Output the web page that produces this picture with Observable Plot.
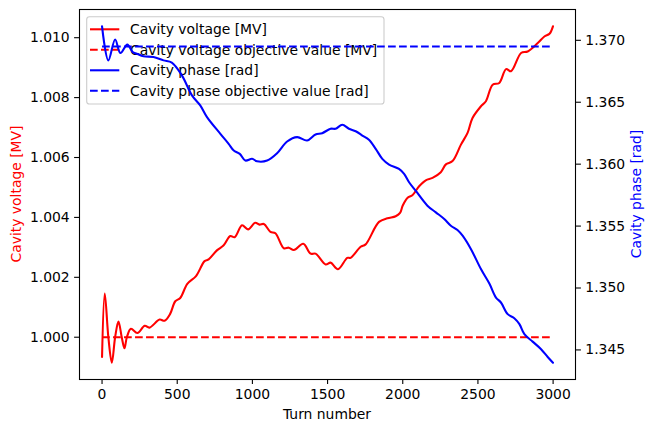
<!DOCTYPE html>
<html>
<head>
<meta charset="utf-8">
<script src="https://cdn.jsdelivr.net/npm/d3@7"></script>
<script src="https://cdn.jsdelivr.net/npm/@observablehq/plot@0.6"></script>
<style>
  body { margin: 0; background: #fff; }
</style>
</head>
<body>
<div id="chart"></div>
<script>
// Cavity voltage over turns [MV]
const voltTurns = [0, 18, 42, 65, 87, 109, 131, 149, 165, 192, 235, 284, 315, 383, 416, 453, 487, 520, 567, 625,
  682, 709, 764, 809, 853, 882, 931, 971, 1018, 1047, 1076, 1120, 1153, 1209, 1242, 1276, 1338, 1387, 1420, 1487,
  1520, 1569, 1631, 1653, 1720, 1753, 1842, 1898, 1953, 1982, 2000, 2031, 2064, 2109, 2153, 2198, 2253, 2287, 2331, 2387,
  2431, 2464, 2520, 2553, 2598, 2642, 2687, 2720, 2787, 2831, 2898, 2942, 2976, 2999];
const voltValues = [0.99934, 1.00146, 1.00000, 0.99915, 1.00000, 1.00052, 1.00000, 0.99963, 1.00000, 1.00028,
  1.00014, 1.00038, 1.00032, 1.00059, 1.00055, 1.00078, 1.00120, 1.00131, 1.00178, 1.00204,
  1.00254, 1.00260, 1.00290, 1.00307, 1.00338, 1.00334, 1.00374, 1.00360, 1.00382, 1.00376,
  1.00378, 1.00352, 1.00347, 1.00297, 1.00299, 1.00291, 1.00312, 1.00279, 1.00279, 1.00243,
  1.00249, 1.00227, 1.00265, 1.00265, 1.00302, 1.00310, 1.00385, 1.00397, 1.00404, 1.00415, 1.00440,
  1.00465, 1.00474, 1.00504, 1.00524, 1.00532, 1.00551, 1.00577, 1.00588, 1.00643, 1.00682,
  1.00732, 1.00771, 1.00788, 1.00843, 1.00849, 1.00895, 1.00888, 1.00949, 1.00954, 1.00982,
  1.01004, 1.01013, 1.01038];

// Cavity phase over turns [rad]
const phaseTurns = [0, 42, 87, 122, 168, 204, 231, 276, 342, 409, 464, 531, 598, 653, 698, 787, 842, 876, 916, 953,
  998, 1031, 1098, 1164, 1231, 1298, 1364, 1420, 1464, 1520, 1553, 1598, 1642, 1687, 1731, 1775, 1820, 1864, 1909,
  1975, 2009, 2042, 2087, 2164, 2220, 2276, 2320, 2364, 2398, 2453, 2520, 2576, 2620, 2653, 2698, 2742, 2776, 2809,
  2864, 2920, 2964, 2999];
const phaseValues = [1.37113, 1.36838, 1.37006, 1.36897, 1.36965, 1.36905, 1.36892, 1.36871, 1.36865, 1.36838,
  1.36820, 1.36717, 1.36555, 1.36474, 1.36380, 1.36245, 1.36164, 1.36110, 1.36083, 1.36029,
  1.36043, 1.36023, 1.36029, 1.36088, 1.36183, 1.36218, 1.36191, 1.36240, 1.36250, 1.36286,
  1.36286, 1.36318, 1.36286, 1.36266, 1.36231, 1.36197, 1.36124, 1.36043, 1.35997, 1.35962,
  1.35922, 1.35854, 1.35784, 1.35665, 1.35611, 1.35557, 1.35503, 1.35468, 1.35422, 1.35315,
  1.35153, 1.35036, 1.34923, 1.34883, 1.34789, 1.34756, 1.34708, 1.34627, 1.34567, 1.34506,
  1.34443, 1.34397];

const voltObjective = 1.000;
const phaseObjective = 1.3695;

const turnTicks = [0, 500, 1000, 1500, 2000, 2500, 3000];
const voltTicks = [1.000, 1.002, 1.004, 1.006, 1.008, 1.010];
const phaseTicks = [1.345, 1.350, 1.355, 1.360, 1.365, 1.370];

const seriesLabels = [
  "Cavity voltage [MV]",
  "Cavity voltage objective value [MV]",
  "Cavity phase [rad]",
  "Cavity phase objective value [rad]"
];
const xLabel = "Turn number";
const yLeftLabel = "Cavity voltage [MV]";
const yRightLabel = "Cavity phase [rad]";

const RED = "#ff0000", BLUE = "#0000ff";
const FONT = "DejaVu Sans";
const FS = 13.9;
const LW = 2.08;
const DASH = "7.7,3.3";

// autoscale with 5% padding on each side
function padded([lo, hi]) { const m = (hi - lo) * 0.05; return [lo - m, hi + m]; }
const turnExtent = d3.extent([...voltTurns, ...phaseTurns]);
const xDomain = padded(turnExtent);
const vDomain = padded(d3.extent([...voltValues, voltObjective]));
const pDomain = padded(d3.extent([...phaseValues, phaseObjective]));

// phase is drawn on the voltage scale through a linear twin-axis mapping
const toV = p => vDomain[0] + (p - pDomain[0]) * (vDomain[1] - vDomain[0]) / (pDomain[1] - pDomain[0]);
const toP = v => pDomain[0] + (v - vDomain[0]) * (pDomain[1] - pDomain[0]) / (vDomain[1] - vDomain[0]);

const voltage = voltTurns.map((t, i) => ({t, v: voltValues[i]}));
const phase = phaseTurns.map((t, i) => ({t, v: toV(phaseValues[i])}));
const voltGoal = turnExtent.map(t => ({t, v: voltObjective}));
const phaseGoal = turnExtent.map(t => ({t, v: toV(phaseObjective)}));

const fmt3 = d3.format(".3f");

function legend(index, scales, values, dims) {
  const g = d3.create("svg:g").attr("font-family", FONT).attr("font-size", FS).attr("text-anchor", "start");
  const x0 = dims.marginLeft + 7.7, y0 = dims.marginTop + 7.7;
  g.append("rect")
    .attr("x", x0).attr("y", y0).attr("width", 297.3).attr("height", 87.3)
    .attr("rx", 2.8).attr("ry", 2.8)
    .attr("fill", "white").attr("fill-opacity", 0.8)
    .attr("stroke", "#cccccc").attr("stroke-width", 1.1);
  const styles = [[RED, null], [RED, DASH], [BLUE, null], [BLUE, DASH]];
  seriesLabels.forEach((label, i) => {
    const y = y0 + 12.6 + i * 20.5;
    g.append("line")
      .attr("x1", x0 + 3.3).attr("x2", x0 + 32.6).attr("y1", y).attr("y2", y)
      .attr("stroke", styles[i][0]).attr("stroke-width", LW)
      .attr("stroke-dasharray", styles[i][1]);
    g.append("text")
      .attr("x", x0 + 43.3).attr("y", y).attr("dy", "0.36em")
      .attr("text-anchor", "start")
      .attr("fill", "black").text(label);
  });
  return g.node();
}

function axisTitles(index, scales, values, dims) {
  const g = d3.create("svg:g").attr("font-family", FONT).attr("font-size", FS).attr("text-anchor", "middle");
  const cx = (dims.marginLeft + dims.width - dims.marginRight) / 2;
  const cy = (dims.marginTop + dims.height - dims.marginBottom) / 2;
  g.append("text").attr("x", cx).attr("y", dims.height - 18).attr("dy", "0.36em").attr("fill", "black").text(xLabel);
  g.append("text").attr("transform", `translate(${dims.marginLeft - 63.5},${cy}) rotate(-90)`)
    .attr("dy", "0.36em").attr("fill", RED).text(yLeftLabel);
  g.append("text").attr("transform", `translate(${dims.width - dims.marginRight + 61},${cy}) rotate(-90)`)
    .attr("dy", "0.36em").attr("fill", BLUE).text(yRightLabel);
  return g.node();
}

const axisStyle = {tickSize: 4.9, tickPadding: 4.9, fontSize: FS, label: null, strokeWidth: 1.1};

const chart = Plot.plot({
  width: 653,
  height: 432,
  marginLeft: 79,
  marginRight: 78,
  marginTop: 9,
  marginBottom: 53,
  style: {fontFamily: FONT, fontSize: `${FS}px`, background: "white", color: "black", overflow: "visible"},
  x: {domain: xDomain},
  y: {domain: vDomain},
  marks: [
    Plot.line(voltage, {x: "t", y: "v", stroke: RED, strokeWidth: LW, curve: "catmull-rom"}),
    Plot.line(voltGoal, {x: "t", y: "v", stroke: RED, strokeWidth: LW, strokeDasharray: DASH, strokeLinecap: "butt"}),
    legend,
    Plot.line(phase, {x: "t", y: "v", stroke: BLUE, strokeWidth: LW, curve: "catmull-rom"}),
    Plot.line(phaseGoal, {x: "t", y: "v", stroke: BLUE, strokeWidth: LW, strokeDasharray: DASH, strokeLinecap: "butt"}),
    Plot.frame({stroke: "black", strokeWidth: 1.1}),
    Plot.axisX({...axisStyle, ticks: turnTicks, tickFormat: d3.format("d")}),
    Plot.axisY({...axisStyle, anchor: "left", ticks: voltTicks, tickFormat: fmt3}),
    Plot.axisY({...axisStyle, anchor: "right", ticks: phaseTicks.map(toV), tickFormat: v => fmt3(toP(v))}),
    axisTitles
  ]
});

document.getElementById("chart").append(chart);
</script>
</body>
</html>
